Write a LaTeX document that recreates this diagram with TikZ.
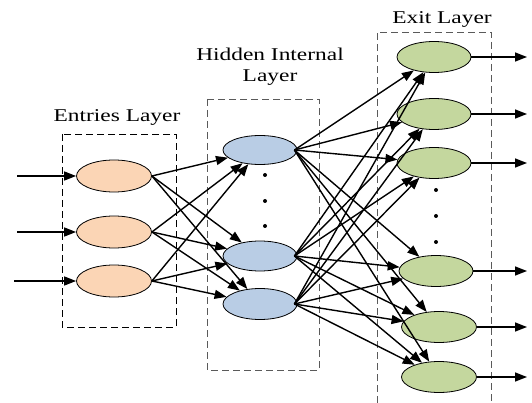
\documentclass[tikz,border=0pt]{standalone}
\usepackage{fontspec}
\setmainfont{Liberation Serif}
\usetikzlibrary{shapes.geometric,arrows.meta}

\definecolor{inpeach}{RGB}{251,213,181}
\definecolor{hidblue}{RGB}{185,205,229}
\definecolor{outgreen}{RGB}{196,215,158}
\definecolor{boxgray}{RGB}{90,90,90}

\tikzset{
    neuron/.style={ellipse,draw=black,line width=0.8pt,inner sep=0pt,
        minimum width=75pt,minimum height=31pt},
    layerbox/.style={dashed,dash pattern=on 7pt off 4pt,line width=0.9pt},
    layertitle/.style={font=\fontsize{18}{21}\selectfont,align=center,
        xscale=1.3,transform shape},
    link/.style={line width=1.4pt,-{Triangle[length=12pt,width=9pt]}},
    vdot/.style={circle,fill=black,inner sep=0pt,minimum size=4pt}
}

\begin{document}
\begin{tikzpicture}[x=1pt,y=-1pt]
    \useasboundingbox (0,0) rectangle (532,403);

    % layer frames
    \draw[layerbox] (62,134) rectangle (176,327);
    \draw[layerbox,draw=boxgray] (207,99) rectangle (319,370);
    \draw[layerbox,draw=boxgray] (377,403) -- (377,32) -- (491,32) -- (491,403);

    % titles
    \node[layertitle] (tin) at (117,117) {Entries Layer};
    \node[layertitle] (thid) at (270,67) {Hidden Internal\\Layer};
    \node[layertitle] (tout) at (442,19) {Exit Layer};

    % entries layer
    \node[neuron,fill=inpeach,minimum height=32pt] (e1) at (114,176) {};
    \node[neuron,fill=inpeach,minimum height=32pt] (e2) at (114,232) {};
    \node[neuron,fill=inpeach,minimum height=32pt] (e3) at (114,281) {};

    % hidden internal layer
    \node[neuron,fill=hidblue,minimum width=74pt,minimum height=29pt] (h1) at (260,150) {};
    \node[neuron,fill=hidblue,minimum width=74pt,minimum height=30pt] (h2) at (260,256) {};
    \node[neuron,fill=hidblue,minimum width=74pt,minimum height=31pt] (h3) at (260,304) {};
    \node[vdot] (hd1) at (265,175) {};
    \node[vdot] (hd2) at (265,201) {};
    \node[vdot] (hd3) at (265,226) {};

    % exit layer
    \node[neuron,fill=outgreen,minimum width=74pt] (o1) at (434,57) {};
    \node[neuron,fill=outgreen,minimum width=74pt] (o2) at (434,114) {};
    \node[neuron,fill=outgreen,minimum width=74pt] (o3) at (434,163) {};
    \node[neuron,fill=outgreen,minimum width=74pt] (o4) at (436,271) {};
    \node[neuron,fill=outgreen] (o5) at (439,327) {};
    \node[neuron,fill=outgreen] (o6) at (439,377) {};
    \node[vdot] (od1) at (436,190) {};
    \node[vdot] (od2) at (436,216) {};
    \node[vdot] (od3) at (436,242) {};

    % inputs and outputs
    \coordinate (i1) at (17,176);
    \coordinate (i2) at (17,232);
    \coordinate (i3) at (14,281);
    \foreach \k in {1,2,3}
        \draw[link] (i\k) -- (e\k.west);
    \foreach \k in {1,...,6}
        \coordinate (x\k) at (527,0 |- o\k);
    \foreach \k in {1,...,6}
        \draw[link] (o\k.east) -- (x\k);

    % connections
    \foreach \a in {1,2,3}
        \foreach \b in {1,2,3}
            \draw[link] (e\a.east) -- (h\b);
    \foreach \a in {1,2,3}
        \foreach \b in {1,...,6}
            \draw[link] ([xshift=-3pt]h\a.east) -- (o\b);
\end{tikzpicture}
\end{document}
